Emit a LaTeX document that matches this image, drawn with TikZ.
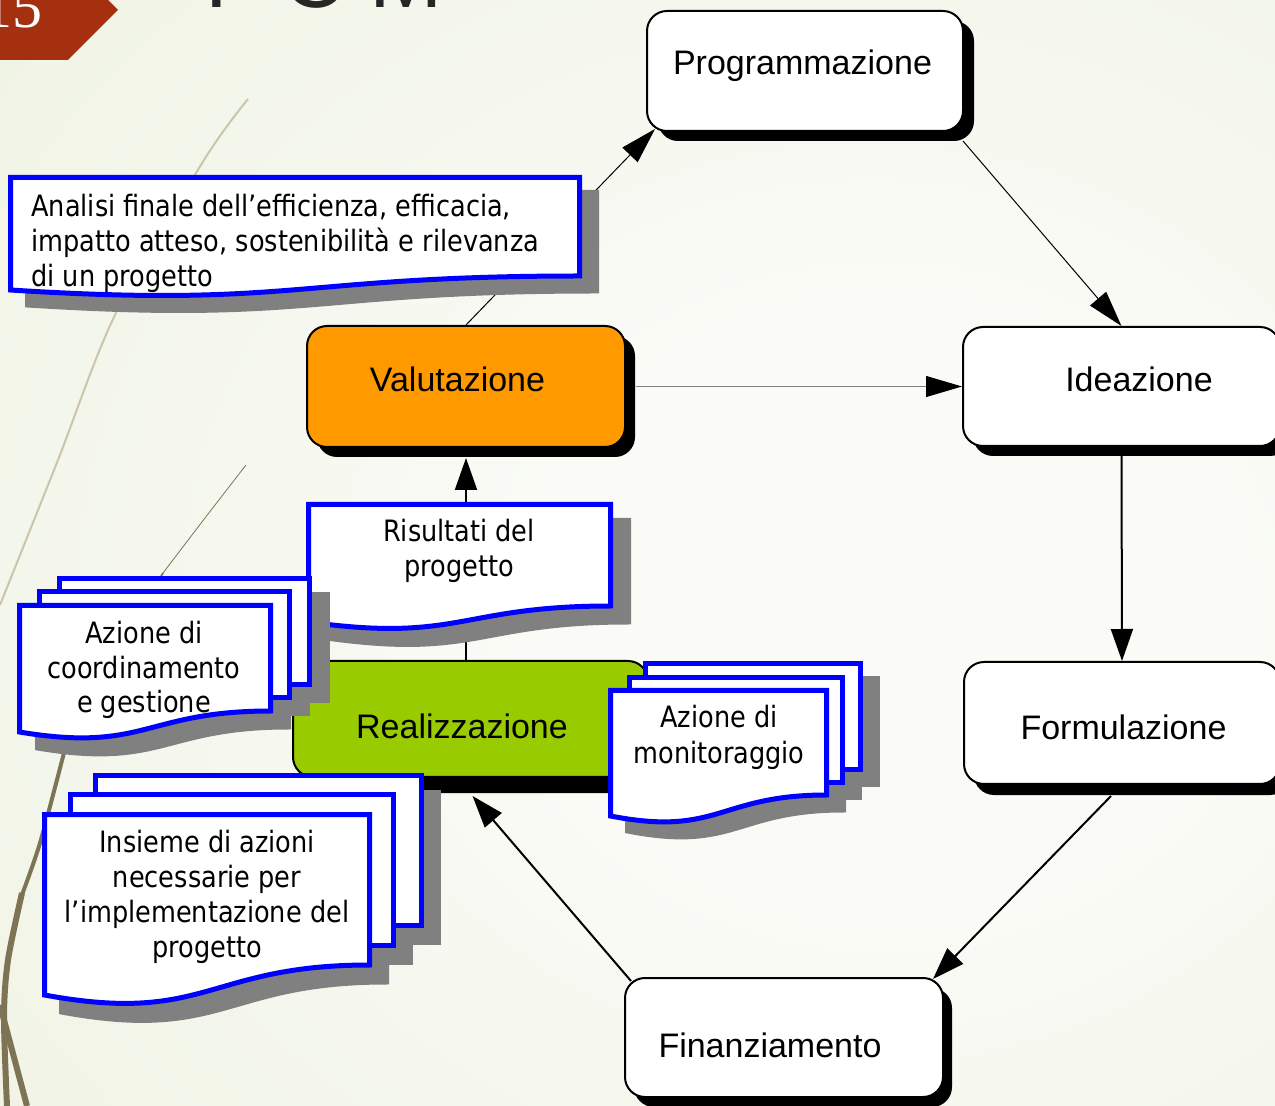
\documentclass[tikz,border=0pt]{standalone}
\usepackage{fontspec}
\setmainfont{Liberation Sans}
\newfontfamily\docfont[FakeStretch=0.87]{DejaVu Sans}
\newfontfamily\numfont{Liberation Serif}
\usetikzlibrary{arrows.meta,shadows,calc}
\definecolor{bgin}{HTML}{FAFBF6}
\definecolor{bgmid}{HTML}{EEF2E1}
\definecolor{bgout}{HTML}{DDE5C3}
\definecolor{tagred}{RGB}{165,48,16}
\definecolor{leafbeige}{HTML}{CBC6AA}
\definecolor{leafolive}{HTML}{7D7355}
\definecolor{docblue}{HTML}{0000FF}
\definecolor{docgrey}{HTML}{808080}
\definecolor{valorange}{HTML}{FF9900}
\definecolor{realgreen}{HTML}{99CC00}
\definecolor{titlegrey}{HTML}{262626}
\pgfdeclareradialshading{bgshade}{\pgfpoint{12bp}{-3bp}}{color(0bp)=(bgin); color(14bp)=(bgin); color(45bp)=(bgmid); color(80bp)=(bgout)}
\newcommand\docstrut{\rule[-4pt]{0pt}{16pt}}
\newcommand\docpath[6]{(#1,#2) -- (#3,#2) -- (#3,#4) .. controls ({(#1+#3)/2},#4) and ({(#1+#3)/2},#5) .. (#1,#6) -- cycle}
\tikzset{
  stagebox/.style={draw=black, line width=1pt, rounded corners=10pt, inner sep=0pt, fill=white},
  shad/.style 2 args={drop shadow={shadow xshift=#1, shadow yshift=#2, opacity=1, fill=black}},
  stagetext/.style={font=\fontsize{17}{20}\selectfont, inner sep=0pt, text=black},
  doctext/.style={font=\docfont\fontsize{14.7}{17.5}\selectfont, inner sep=0pt, text=black},
  docpage/.style={draw=docblue, fill=white, line width=2.5pt},
  docshade/.style={draw=docgrey, fill=docgrey, line width=2.5pt},
  thinarrow/.style={line width=0.5pt, -{Triangle[length=18pt,width=10.5pt,color=black]}},
  thickarrow/.style={line width=1pt, -{Triangle[length=16pt,width=11pt]}}
}
\begin{document}
\begin{tikzpicture}[x=0.5pt,y=-0.5pt]
\useasboundingbox (0,0) rectangle (1275,1106);
\shade[shading=bgshade] (0,0) rectangle (1275,1106);

% decorative leaf lines
\draw[leafbeige, line width=1pt] plot[smooth] coordinates {(248,99) (204,160) (115,315) (58,460) (0,605)};
\draw[leafolive, line width=0.4pt] plot[smooth] coordinates {(246,465) (205,518) (163,573)};
\draw[leafolive, line width=0.9pt] plot[smooth] coordinates {(163,573) (110,665) (63,753)};
\draw[leafolive, line width=2pt] plot[smooth] coordinates {(66,745) (40,843) (20,900)};
\draw[leafolive, line width=3pt] plot[smooth] coordinates {(22,893) (8,960) (4,1017) (7,1106)};
\draw[leafolive, line width=3pt] (0,1005) -- (27,1106);

% slide number tag and title fragment
\fill[tagred] (0,0) -- (108,0) -- (118,10) -- (68,60) -- (0,60) -- cycle;
\node[anchor=base east, inner sep=0pt, text=white, font=\numfont\fontsize{30}{30}\selectfont] (slidenum) at (43,28) {15};
\node[anchor=base west, inner sep=0pt, text=titlegrey, font=\fontsize{44}{44}\selectfont] (title) at (205,8) {P\kern9pt C\kern12pt M};

% stage boxes
\node[stagebox, shad={5.5pt}{-5pt}, minimum width=158pt, minimum height=60pt] (prog) at (805,71) {};
\node[stagebox, shad={5pt}{-5pt}, minimum width=158.5pt, minimum height=59.5pt] (ide) at (1121.5,386.5) {};
\node[stagebox, shad={5pt}{-5.5pt}, minimum width=158pt, minimum height=61pt] (form) at (1122,723) {};
\node[stagebox, shad={4.5pt}{-5pt}, minimum width=159pt, minimum height=59.5pt] (fin) at (784,1037.5) {};
\node[stagebox, fill=valorange, shad={5pt}{-5pt}, minimum width=159pt, minimum height=60.5pt] (val) at (466,386.5) {};
\node[stagebox, fill=realgreen, shad={5pt}{-8pt}, minimum width=177.5pt, minimum height=58pt] (real) at (470.5,719) {};

\node[stagetext, anchor=base] (progt) at (802.5,75) {Programmazione};
\node[stagetext, anchor=base] (idet) at (1139,392) {Ideazione};
\node[stagetext, anchor=base] (formt) at (1123.5,740) {Formulazione};
\node[stagetext, anchor=base] (fint) at (770,1057) {Finanziamento};
\node[stagetext, anchor=base] (valt) at (457.5,392) {Valutazione};
\node[stagetext, anchor=base] (realt) at (462,739) {Realizzazione};

% connectors
\draw[thinarrow] (val.north) -- ($(prog.south west)+(9,-3)$);
\draw[thinarrow] ($(prog.south east)+(-1,9)$) -- (ide.north);
\draw[thinarrow, draw=gray] ($(val.east)+(10,0)$) -- (ide.west);
\draw[thickarrow] (ide.south) -- (form.north);
\draw[thickarrow] ($(form.south)+(-11,11)$) -- ($(fin.north east)+(-11,2)$);
\draw[thickarrow] ($(fin.north west)+(7,4)$) -- ($(real.south)+(2,18)$);
\draw[thickarrow] (real.north -| val.south) -- ($(val.south)+(0,10)$);

% Analisi document
\path[docshade, shift={(17,15)}] \docpath{10.5}{177.5}{579.5}{276}{308}{290};
\path[docpage] \docpath{10.5}{177.5}{579.5}{276}{308}{290};
\node[doctext, anchor=west, align=left] (analisi) at (31,244) {\docstrut Analisi finale dell’efficienza, efficacia,\\\docstrut impatto atteso, sostenibilità e rilevanza\\\docstrut di un progetto};

% Risultati document
\path[docshade, shift={(18,16)}] \docpath{308.5}{504.5}{610.5}{606}{643}{622};
\path[docpage] \docpath{308.5}{504.5}{610.5}{606}{643}{622};
\node[doctext, align=center] (risultati) at (459,551.5) {\docstrut Risultati del\\\docstrut progetto};

% Coordinamento stack
\begin{scope}[shift={(18,16)}]
\path[docshade] (59.5,578.5) rectangle (309.5,684.5);
\path[docshade] (39.5,591.5) rectangle (289.5,697.5);
\path[docshade] \docpath{19.5}{605.5}{270.5}{711}{753}{732};
\end{scope}
\path[docpage] (59.5,578.5) rectangle (309.5,684.5);
\path[docpage] (39.5,591.5) rectangle (289.5,697.5);
\path[docpage] \docpath{19.5}{605.5}{270.5}{711}{753}{732};
\node[doctext, align=center] (coord) at (144,670) {\docstrut Azione di\\\docstrut coordinamento\\\docstrut e gestione};

% Monitoraggio stack
\begin{scope}[shift={(17,15)}]
\path[docshade] (645.5,663.5) rectangle (860.5,769.5);
\path[docshade] (629.5,677.5) rectangle (842.5,782.5);
\path[docshade] \docpath{610.5}{690.5}{826.5}{795}{837}{816};
\end{scope}
\path[docpage] (645.5,663.5) rectangle (860.5,769.5);
\path[docpage] (629.5,677.5) rectangle (842.5,782.5);
\path[docpage] \docpath{610.5}{690.5}{826.5}{795}{837}{816};
\node[doctext, align=center] (monit) at (719,737.5) {\docstrut Azione di\\\docstrut monitoraggio};

% Insieme stack
\begin{scope}[shift={(17,17)}]
\path[docshade] (95.5,775.5) rectangle (421.5,925.5);
\path[docshade] (70.5,794.5) rectangle (393.5,945.5);
\path[docshade] \docpath{44.5}{814.5}{369.5}{965}{1025}{995};
\end{scope}
\path[docpage] (95.5,775.5) rectangle (421.5,925.5);
\path[docpage] (70.5,794.5) rectangle (393.5,945.5);
\path[docpage] \docpath{44.5}{814.5}{369.5}{965}{1025}{995};
\node[doctext, align=center] (insieme) at (207,896.5) {\docstrut Insieme di azioni\\\docstrut necessarie per\\\docstrut l’implementazione del\\\docstrut progetto};
\end{tikzpicture}
\end{document}
